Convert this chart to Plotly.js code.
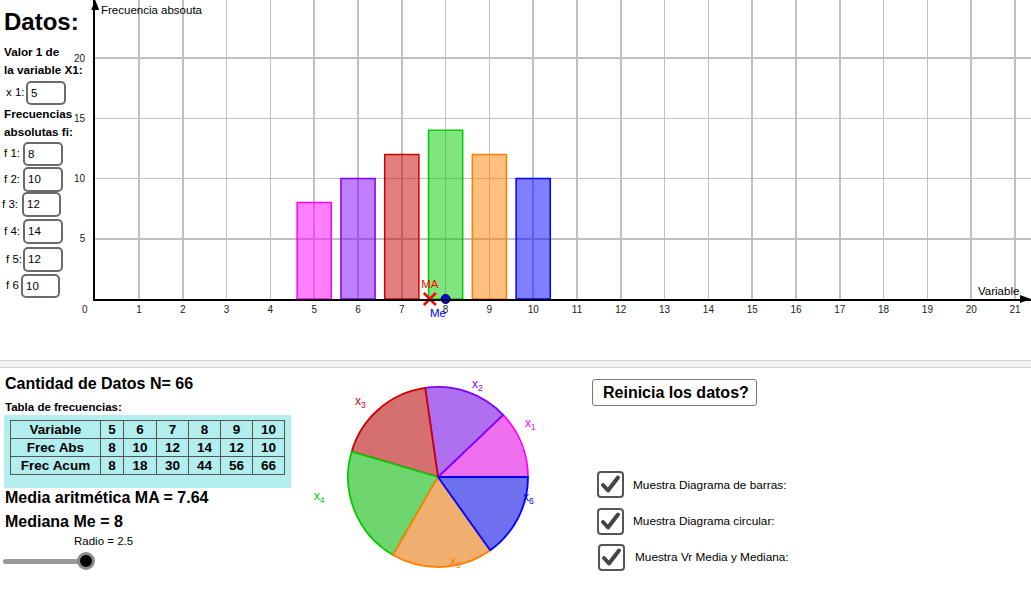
<!DOCTYPE html>
<html>
<head>
<meta charset="utf-8">
<script src="https://cdn.plot.ly/plotly-3.0.1.min.js"></script>
<style>
  html, body { margin: 0; padding: 0; background: #fff; }
  #wrap { position: relative; width: 1031px; height: 607px; overflow: hidden; font-family: "Liberation Sans", Arial, sans-serif; }
  #chart { position: absolute; left: 0; top: 0; width: 1031px; height: 607px; }
  .ov { position: absolute; white-space: nowrap; color: #000; }
  .box { position: absolute; border: 2px solid #6a6a6a; border-radius: 5px; box-sizing: border-box; background: #fff; font-size: 11.5px; padding-left: 3px; }
  .cb { position: absolute; width: 27px; height: 27px; border: 2px solid #555; border-radius: 4px; box-sizing: border-box; background: #fff; }
  table.freq { position: absolute; border-collapse: collapse; font-weight: bold; font-size: 13.5px; }
  table.freq td { border: 1px solid #555; text-align: center; padding: 0; height: 17px; line-height: 17px; }
</style>
</head>
<body>
<div id="wrap">
  <div id="chart"></div>
</div>
<script>
// ---------------- data ----------------
const variables = [5, 6, 7, 8, 9, 10];
const freqAbs   = [8, 10, 12, 14, 12, 10];
const freqAcum  = [8, 18, 30, 44, 56, 66];
const totalN = 66;
const mediaMA = 7.64;
const medianaMe = 8;
const radio = 2.5;
const xTicks = [1,2,3,4,5,6,7,8,9,10,11,12,13,14,15,16,17,18,19,20,21];
const yTicks = [5, 10, 15, 20];
const sliceNames = ['x<sub>1</sub>','x<sub>2</sub>','x<sub>3</sub>','x<sub>4</sub>','x<sub>5</sub>','x<sub>6</sub>'];
const inputLabels = ['f 1:', 'f 2:', 'f 3:', 'f 4:', 'f 5:', 'f 6'];
const checkLabels = ['Muestra Diagrama de barras:', 'Muestra Diagrama circular:', 'Muestra Vr Media y Mediana:'];

// ---------------- styles ----------------
const edgeColors = ['#ff00ff', '#7f00ff', '#cc0000', '#00cc00', '#ff8000', '#0000ff'];
const barFills   = ['rgba(255,0,255,0.5)', 'rgba(127,0,255,0.5)', 'rgba(204,0,0,0.5)', 'rgba(0,204,0,0.5)', 'rgba(255,128,0,0.5)', 'rgba(0,0,255,0.5)'];
const pieFills   = ['#ee6fee', '#af70ef', '#d66f6f', '#6fd66f', '#efaf6f', '#6f70ef'];

const W = 1031, H = 607;
const PX = x => x / W, PY = y => 1 - y / H;

// bar chart geometry: x=0 at px 95.2, 43.8 px/unit; y=0 at px 299, 12.05 px/unit
const x0px = 95.2, xUnit = 43.8, y0px = 299, yUnit = 12.05;
const xMax = (W - x0px) / xUnit;
const yMax = y0px / yUnit;

// first slice starts at 3 o'clock and slices run counter-clockwise
const pieRotation = 90 - 360 * freqAbs[0] / totalN;

const traces = [
  {
    type: 'bar', x: variables, y: freqAbs, width: 0.78,
    marker: { color: barFills, line: { color: edgeColors, width: 1.5 } },
    hoverinfo: 'none', showlegend: false, xaxis: 'x', yaxis: 'y'
  },
  {
    type: 'scatter', mode: 'markers+text', x: [mediaMA], y: [0], text: ['MA'],
    textposition: 'top center', textfont: { color: '#ff0000', size: 11.5, family: 'Liberation Sans, Arial' },
    marker: { symbol: 'x-thin', size: 12, line: { color: '#ff0000', width: 2.5 } },
    cliponaxis: false, hoverinfo: 'none', showlegend: false
  },
  {
    type: 'scatter', mode: 'markers', x: [medianaMe], y: [0],
    marker: { symbol: 'circle', size: 9, color: '#0000ff', line: { color: '#000033', width: 1 } },
    cliponaxis: false, hoverinfo: 'none', showlegend: false
  },
  {
    type: 'pie', values: freqAbs, labels: sliceNames, sort: false,
    direction: 'counterclockwise', rotation: pieRotation, textinfo: 'none', hoverinfo: 'none',
    showlegend: false,
    marker: { colors: pieFills, line: { color: edgeColors, width: 1.8 } },
    domain: { x: [PX(348), PX(528)], y: [PY(567), PY(387)] }
  }
];

const pieLabelPos = [[530,434],[477,385],[360,402],[312,507],[455,572],[528,508]];
const annotations = [];
sliceNames.forEach((s, i) => {
  annotations.push({ xref: 'paper', yref: 'paper', x: PX(pieLabelPos[i][0]), y: PY(pieLabelPos[i][1]),
    text: s, showarrow: false, font: { color: edgeColors[i], size: 12, family: 'Liberation Sans, Arial' } });
});
annotations.push({ xref: 'x', yref: 'y', x: medianaMe, y: 0, xshift: -8, yshift: -14,
  text: 'Me', showarrow: false, font: { size: 11.5, color: '#0000ff', family: 'Liberation Sans, Arial' } });
// axis titles
annotations.push({ xref: 'paper', yref: 'paper', x: PX(99), y: PY(10), xanchor: 'left', yanchor: 'middle',
  text: 'Frecuencia absouta', showarrow: false, font: { size: 11.5, color: '#000', family: 'Liberation Sans, Arial' } });
annotations.push({ xref: 'paper', yref: 'paper', x: PX(1021), y: PY(291), xanchor: 'right', yanchor: 'middle',
  text: 'Variable', showarrow: false, font: { size: 11.5, color: '#000', family: 'Liberation Sans, Arial' } });
annotations.push({ xref: 'paper', yref: 'paper', x: PX(85), y: PY(309), xanchor: 'center', yanchor: 'middle',
  text: '0', showarrow: false, font: { size: 10, color: '#222', family: 'Liberation Sans, Arial' } });

// axis arrow heads
const tri = pts => 'M ' + pts.map(p => PX(p[0]) + ' ' + PY(p[1])).join(' L ') + ' Z';
const shapes = [
  { type: 'path', xref: 'paper', yref: 'paper', path: tri([[x0px, 0], [x0px - 4, 10], [x0px + 4, 10]]),
    fillcolor: '#000', line: { width: 0 } },
  { type: 'path', xref: 'paper', yref: 'paper', path: tri([[W, y0px], [W - 11, y0px - 4], [W - 11, y0px + 4]]),
    fillcolor: '#000', line: { width: 0 } }
];

const layout = {
  width: W, height: H, margin: { l: 0, r: 0, t: 0, b: 0 },
  paper_bgcolor: 'rgba(0,0,0,0)', plot_bgcolor: 'rgba(0,0,0,0)',
  showlegend: false, bargap: 0,
  xaxis: {
    domain: [PX(x0px), 1], range: [0, xMax], tickvals: xTicks, ticktext: xTicks.map(String),
    showgrid: true, gridcolor: '#c0c0c0', gridwidth: 1.5, zeroline: false,
    showline: true, linecolor: '#000', linewidth: 2, ticks: '',
    tickfont: { size: 10, color: '#222', family: 'Liberation Sans, Arial' }, fixedrange: true
  },
  yaxis: {
    domain: [PY(y0px), 1], range: [0, yMax], tickvals: yTicks, ticktext: yTicks.map(String),
    showgrid: true, gridcolor: '#c0c0c0', gridwidth: 1.5, zeroline: false,
    showline: true, linecolor: '#000', linewidth: 2, ticks: '', ticklabelstandoff: 6,
    tickfont: { size: 10, color: '#222', family: 'Liberation Sans, Arial' }, fixedrange: true
  },
  annotations: annotations,
  shapes: shapes
};

Plotly.newPlot('chart', traces, layout, { staticPlot: true, displayModeBar: false });

// ---------------- overlay widgets (GeoGebra-like panel) ----------------
const wrap = document.getElementById('wrap');
function txt(x, yc, text, size, bold, color) {
  const d = document.createElement('div');
  d.className = 'ov';
  d.style.left = x + 'px';
  d.style.top = (yc - size * 0.6) + 'px';
  d.style.lineHeight = (size * 1.2) + 'px';
  d.style.fontSize = size + 'px';
  if (bold) d.style.fontWeight = 'bold';
  if (color) d.style.color = color;
  d.textContent = text;
  wrap.appendChild(d);
  return d;
}
function box(x1, y1, x2, y2, text) {
  const d = document.createElement('div');
  d.className = 'box';
  d.style.left = x1 + 'px'; d.style.top = y1 + 'px';
  d.style.width = (x2 - x1) + 'px'; d.style.height = (y2 - y1) + 'px';
  d.style.lineHeight = (y2 - y1 - 4) + 'px';
  d.textContent = text;
  wrap.appendChild(d);
}
function rect(x, y, w, h, css) {
  const d = document.createElement('div');
  d.style.position = 'absolute';
  d.style.left = x + 'px'; d.style.top = y + 'px';
  d.style.width = w + 'px'; d.style.height = h + 'px';
  Object.assign(d.style, css || {});
  wrap.appendChild(d);
  return d;
}

// separator band between the graphics views
rect(0, 360, W, 6, { background: '#f3f3f3', borderTop: '1px solid #d2d2d2', borderBottom: '1px solid #d2d2d2' });

txt(4, 22, 'Datos:', 24, true);
txt(4, 52, 'Valor 1 de', 11.7, true);
txt(4, 70, 'la variable X1:', 11.7, true);
txt(6, 93, 'x 1:', 11.5, false);
box(26, 81, 66, 105, String(variables[0]));
txt(4, 114, 'Frecuencias', 11.7, true);
txt(4, 132, 'absolutas fi:', 11.7, true);

const fBoxes = [[23,142,63,166],[23,167,63,192],[22,192,61,217],[23,219,63,244],[23,247,63,272],[21,274,60,298]];
const fLblX = [4, 4, 2, 4, 6, 6];
inputLabels.forEach((l, i) => {
  const b = fBoxes[i];
  txt(fLblX[i], (b[1] + b[3]) / 2, l, 11.5, false);
  box(b[0], b[1], b[2], b[3], String(freqAbs[i]));
});

// lower panel
txt(5, 384, 'Cantidad de Datos N= ' + totalN, 16, true);
txt(5, 408, 'Tabla de frecuencias:', 11.5, true);
rect(4, 415, 287, 73, { background: '#b2eeee' });

const tbl = document.createElement('table');
tbl.className = 'freq';
tbl.style.left = '10px'; tbl.style.top = '420px';
const colW = [90, 23, 33, 32, 32, 32, 32];
const rows = [['Variable'].concat(variables), ['Frec Abs'].concat(freqAbs), ['Frec Acum'].concat(freqAcum)];
rows.forEach(r => {
  const tr = document.createElement('tr');
  r.forEach((c, j) => {
    const td = document.createElement('td');
    td.style.width = (colW[j] - 1) + 'px';
    td.textContent = c;
    tr.appendChild(td);
  });
  tbl.appendChild(tr);
});
wrap.appendChild(tbl);

txt(5, 498, 'Media aritmética MA = ' + mediaMA, 16, true);
txt(5, 522, 'Mediana Me = ' + medianaMe, 16, true);
txt(74, 542, 'Radio = ' + radio, 11.5, false);
rect(3, 559, 84, 5, { background: '#999', borderRadius: '3px' });
rect(77, 552, 18, 18, { background: '#000', borderRadius: '50%', boxSizing: 'border-box', border: '3px solid #8a8a8a' });

// button
rect(592, 379, 165, 27, { border: '1px solid #777', borderRadius: '3px', boxSizing: 'border-box', background: '#fff' });
txt(603, 392.5, 'Reinicia los datos?', 16, true);

// check boxes
const cbPos = [[597, 471, 633, 485], [597, 508, 633, 521], [598, 544, 635, 557]];
checkLabels.forEach((l, i) => {
  const p = cbPos[i];
  const c = rect(p[0], p[1], 27, 27, {});
  c.className = 'cb';
  c.innerHTML = '<svg width="23" height="23" viewBox="0 0 23 23" style="position:absolute;left:0;top:0"><path d="M4 12 L9 17.5 L19 4.5" fill="none" stroke="#444" stroke-width="4" stroke-linecap="round" stroke-linejoin="round"/></svg>';
  txt(p[2], p[3], l, 11.8, false);
});
</script>
</body>
</html>
